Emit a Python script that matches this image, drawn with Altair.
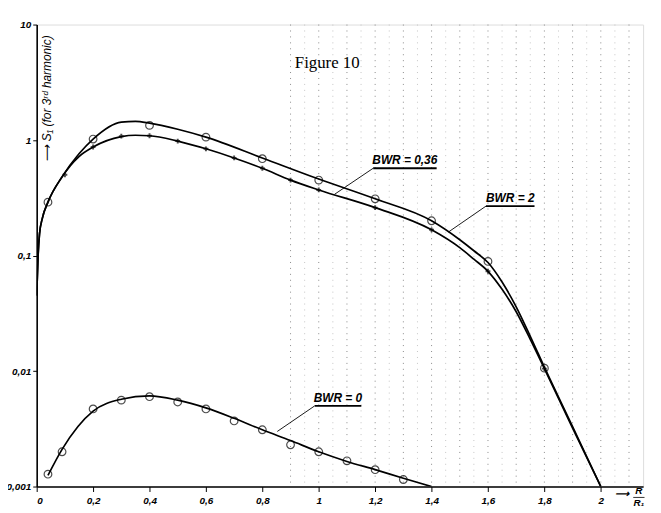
import altair as alt
import pandas as pd

# ---- curve BWR = 2 (upper, circles) ----
c2_x = [0, 0.005, 0.01, 0.02, 0.04, 0.09, 0.15, 0.2, 0.3, 0.35, 0.4, 0.5, 0.6, 0.8, 1.0, 1.2, 1.4, 1.5, 1.55, 1.6, 1.65, 1.7, 1.75, 1.8, 1.9, 2.0]
c2_y = [0.045, 0.1, 0.154, 0.21, 0.29, 0.48, 0.76, 1.02, 1.43, 1.45, 1.40, 1.24, 1.06, 0.70, 0.46, 0.31, 0.20, 0.137, 0.110, 0.087, 0.059, 0.036, 0.020, 0.0108, 0.0033, 0.001]
m2_x = [0.04, 0.2, 0.4, 0.6, 0.8, 1.0, 1.2, 1.4, 1.6, 1.8]
m2_y = [0.29, 1.02, 1.34, 1.06, 0.69, 0.45, 0.31, 0.20, 0.089, 0.0106]

# ---- curve BWR = 0,36 (lower, crosses) ----
c036_x = [0, 0.005, 0.01, 0.02, 0.04, 0.09, 0.15, 0.2, 0.3, 0.35, 0.4, 0.5, 0.6, 0.7, 0.8, 0.9, 1.0, 1.2, 1.4, 1.5, 1.55, 1.6, 1.65, 1.7, 1.75, 1.8, 1.9, 2.0]
c036_y = [0.045, 0.1, 0.154, 0.21, 0.29, 0.48, 0.72, 0.87, 1.07, 1.10, 1.09, 0.98, 0.84, 0.70, 0.57, 0.45, 0.37, 0.26, 0.167, 0.117, 0.093, 0.073, 0.051, 0.0326, 0.0188, 0.0105, 0.0032, 0.001]
m036_x = [0.1, 0.2, 0.3, 0.4, 0.5, 0.6, 0.7, 0.8, 0.9, 1.0, 1.2, 1.4, 1.6, 1.8]
m036_y = [0.50, 0.87, 1.08, 1.09, 0.98, 0.84, 0.70, 0.57, 0.45, 0.37, 0.26, 0.167, 0.073, 0.0105]

# ---- curve BWR = 0 (bottom, circles) ----
c0_x = [0.04, 0.09, 0.2, 0.3, 0.4, 0.5, 0.6, 0.7, 0.8, 0.9, 1.0, 1.1, 1.2, 1.3, 1.4]
c0_y = [0.00125, 0.0021, 0.0045, 0.0057, 0.0061, 0.0056, 0.0048, 0.0039, 0.0031, 0.0025, 0.0020, 0.00165, 0.0014, 0.00118, 0.001]
m0_x = [0.04, 0.09, 0.2, 0.3, 0.4, 0.5, 0.6, 0.7, 0.8, 0.9, 1.0, 1.1, 1.2, 1.3]
m0_y = [0.00128, 0.0020, 0.0047, 0.0056, 0.0060, 0.0054, 0.0047, 0.0037, 0.0031, 0.0023, 0.0020, 0.00167, 0.0014, 0.00115]

# ---- axis ticks ----
x_ticks = [0, 0.2, 0.4, 0.6, 0.8, 1.0, 1.2, 1.4, 1.6, 1.8, 2.0]
y_ticks = [0.001, 0.01, 0.1, 1, 10]

# ---- faint background grid of the graph paper (scan) ----
grid_x = [0.9, 0.95, 1.0, 1.05, 1.1, 1.15, 1.2, 1.25, 1.3, 1.35, 1.4, 1.45, 1.5, 1.55, 1.6,
          1.65, 1.7, 1.75, 1.8, 1.85, 1.9, 1.95, 2.0, 2.05, 2.1]

# ---- labels with leader lines ----
lab_text = ["BWR = 0,36", "BWR = 2", "BWR = 0"]
lab_x = [1.305, 1.679, 1.068]
und_x1 = [1.193, 1.593, 0.986]
und_x2 = [1.418, 1.765, 1.151]
und_y = [0.57, 0.268, 0.0050]
lead_x2 = [1.056, 1.46, 0.853]
lead_y2 = [0.339, 0.160, 0.0030]

X_DOM = [0, 2.15]
Y_DOM = [0.001, 10]
W, H = 613, 467

xs = alt.Scale(domain=X_DOM, nice=False, zero=False)
ys = alt.Scale(type="log", domain=Y_DOM, nice=False)

curves = pd.DataFrame(
    [{"x": a, "y": b, "s": "BWR=2"} for a, b in zip(c2_x, c2_y)]
    + [{"x": a, "y": b, "s": "BWR=0.36"} for a, b in zip(c036_x, c036_y)]
    + [{"x": a, "y": b, "s": "BWR=0"} for a, b in zip(c0_x, c0_y)]
)
circ = pd.DataFrame(
    [{"x": a, "y": b} for a, b in zip(m2_x, m2_y)]
    + [{"x": a, "y": b} for a, b in zip(m0_x, m0_y)]
)
cross = pd.DataFrame({"x": m036_x, "y": m036_y})
labels = pd.DataFrame({"t": lab_text, "x": lab_x, "ux1": und_x1, "ux2": und_x2,
                       "uy": und_y, "lx2": lead_x2, "ly2": lead_y2})
gridv = pd.DataFrame({"x": grid_x, "major": [round(v * 10) == v * 10 for v in grid_x]})

lab_expr = "replace(toString(datum.value), '.', ',')"

axis_x = alt.Axis(values=x_ticks, labelExpr=lab_expr, grid=False, title=None,
                  labelFont="Liberation Sans", labelFontStyle="italic", labelFontWeight="bold",
                  labelFontSize=10, labelColor="black", domainColor="black", tickColor="black",
                  domainWidth=1.6, tickSize=5, labelPadding=4)
axis_y = alt.Axis(values=y_ticks, labelExpr=lab_expr, grid=False, title=None,
                  labelFont="Liberation Sans", labelFontStyle="italic", labelFontWeight="bold",
                  labelFontSize=10, labelColor="black", domainColor="black", tickColor="black",
                  domainWidth=1.6, tickSize=4, labelPadding=2)

grid = alt.Chart(gridv).mark_rule(strokeDash=[1, 5], strokeWidth=1).encode(
    x=alt.X("x:Q", scale=xs),
    color=alt.condition("datum.major", alt.value("#8a8a8a"), alt.value("#c4c4c4")),
)

line = alt.Chart(curves).mark_line(color="black", strokeWidth=1.7, interpolate="monotone", clip=True).encode(
    x=alt.X("x:Q", scale=xs, axis=axis_x),
    y=alt.Y("y:Q", scale=ys, axis=axis_y),
    detail="s:N",
)

circles = alt.Chart(circ).mark_point(shape="circle", size=60, color="black", strokeWidth=1.2, filled=False).encode(
    x=alt.X("x:Q", scale=xs), y=alt.Y("y:Q", scale=ys))

crosses = alt.Chart(cross).mark_point(shape="cross", size=24, color="black", filled=True).encode(
    x=alt.X("x:Q", scale=xs), y=alt.Y("y:Q", scale=ys))

lab_txt = alt.Chart(labels).mark_text(font="Liberation Sans", fontStyle="italic", fontWeight="bold",
                                      fontSize=12, color="black", baseline="bottom", dy=-1).encode(
    x=alt.X("x:Q", scale=xs), y=alt.Y("uy:Q", scale=ys), text="t:N")
underline = alt.Chart(labels).mark_rule(color="black", strokeWidth=1.8).encode(
    x=alt.X("ux1:Q", scale=xs), x2="ux2:Q", y=alt.Y("uy:Q", scale=ys))
leader = alt.Chart(labels).mark_rule(color="black", strokeWidth=0.9).encode(
    x=alt.X("ux1:Q", scale=xs), x2="lx2:Q", y=alt.Y("uy:Q", scale=ys), y2="ly2:Q")

fig_title = alt.Chart(pd.DataFrame({"t": ["Figure 10"], "x": [1.03], "y": [4.6]})).mark_text(
    font="Liberation Serif", fontSize=17, color="black").encode(
    x=alt.X("x:Q", scale=xs), y=alt.Y("y:Q", scale=ys), text="t:N")

ytitle = alt.Chart(pd.DataFrame({"t": ["\u27f6 S\u2081 (for 3\u02b3\u1d48 harmonic)"], "x": [0.035], "y": [2.29]})).mark_text(
    font="Liberation Sans", fontStyle="italic", fontSize=12, color="black", angle=270).encode(
    x=alt.X("x:Q", scale=xs), y=alt.Y("y:Q", scale=ys), text="t:N")

xt = pd.DataFrame({"t": ["\u27f6", "R", "R\u2081"], "x": [2.075, 2.135, 2.135], "dy": [H + 8, H + 5, H + 17]})
xtitle = alt.Chart(xt).mark_text(font="Liberation Sans", fontStyle="italic", fontWeight="bold",
                                 fontSize=10, color="black").encode(
    x=alt.X("x:Q", scale=xs), y=alt.Y("dy:Q", scale=None), text="t:N")
frac = alt.Chart(pd.DataFrame({"a": [2.115], "b": [2.155]})).mark_rule(color="black", strokeWidth=0.8).encode(
    x=alt.X("a:Q", scale=xs), x2="b:Q", y=alt.value(H + 11))

chart = alt.layer(grid, line, circles, crosses, leader, underline, lab_txt, fig_title, ytitle, xtitle, frac).properties(
    width=W, height=H,
    autosize=alt.AutoSizeParams(type="none"),
    padding={"left": 29, "top": 14, "right": 10, "bottom": 24},
).configure_view(stroke=None).configure(background="white")

chart.save("out.html", embed_options={"renderer": "svg", "actions": False})
